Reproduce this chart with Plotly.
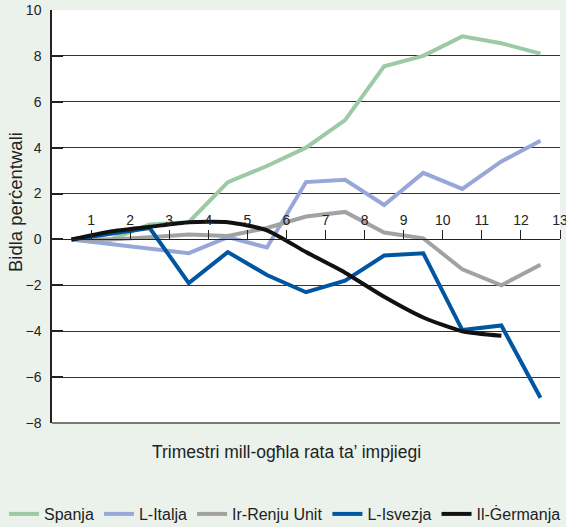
import plotly.graph_objects as go

quarters = [0.5, 1.5, 2.5, 3.5, 4.5, 5.5, 6.5, 7.5, 8.5, 9.5, 10.5, 11.5, 12.5]
spanja = [0, 0, 0.65, 0.75, 2.5, 3.2, 4.0, 5.2, 7.55, 8.0, 8.85, 8.55, 8.1]
italja = [0, -0.2, -0.4, -0.6, 0.1, -0.35, 2.5, 2.6, 1.5, 2.9, 2.2, 3.4, 4.3]
renju_unit = [0, 0.0, 0.1, 0.22, 0.15, 0.5, 1.0, 1.2, 0.3, 0.05, -1.3, -2.0, -1.1]
isvezja = [0, 0.25, 0.5, -1.9, -0.55, -1.55, -2.3, -1.8, -0.7, -0.6, -3.95, -3.75, -6.9]
germanja = [0, 0.35, 0.55, 0.75, 0.75, 0.4, -0.55, -1.45, -2.5, -3.4, -4.0, -4.2]

x_ticks = list(range(1, 14))
y_ticks = list(range(-8, 11, 2))

series = [
    ("Spanja", spanja, "#9ccaa6", "linear"),
    ("L-Italja", italja, "#97a7d8", "linear"),
    ("Ir-Renju Unit", renju_unit, "#a2a2a2", "linear"),
    ("L-Isvezja", isvezja, "#0056a1", "linear"),
    ("Il-Ġermanja", germanja, "#111111", "spline"),
]

FONT = "Liberation Sans, Arial, sans-serif"
BG = "#ebf2ec"

fig = go.Figure()
for name, vals, color, shape in series:
    fig.add_trace(go.Scatter(
        x=quarters[:len(vals)], y=vals, name=name, mode="lines",
        line=dict(color=color, width=4, shape=shape, smoothing=0.6),
    ))

fig.update_layout(
    width=566, height=527,
    margin=dict(l=52, r=6, t=10, b=104, autoexpand=False),
    paper_bgcolor=BG, plot_bgcolor="white",
    font=dict(family=FONT, size=14, color="#222"),
    showlegend=True,
    legend=dict(orientation="h", x=(4 - 52) / 508, xanchor="left",
                y=(423 - 514) / 413, yanchor="middle",
                font=dict(size=16, color="#222"), bgcolor="rgba(0,0,0,0)",
                itemwidth=30, tracegroupgap=0),
    xaxis=dict(range=[0, 13], tickvals=x_ticks, ticktext=[str(t) for t in x_ticks],
               side="top", anchor="free", position=8 / 18, automargin=False,
               ticks="outside", ticklen=9, tickcolor="#222", tickwidth=1,
               showline=True, linecolor="#222", linewidth=1,
               showgrid=False, zeroline=False, ticklabeloverflow="allow",
               tickfont=dict(size=14, color="#222")),
    yaxis=dict(range=[-8, 10], tickvals=y_ticks, automargin=False,
               ticks="inside", ticklen=11, tickcolor="#222", tickwidth=1.5,
               showline=True, linecolor="#222", linewidth=1.5,
               showgrid=True, gridcolor="#333", gridwidth=1,
               zeroline=False, ticklabelstandoff=6,
               tickfont=dict(size=14, color="#222")),
    shapes=[dict(type="line", xref="paper", yref="paper", x0=0, x1=1, y0=0, y1=0,
                 line=dict(color="#7a7a7a", width=2))],
    annotations=[
        dict(text="Trimestri mill-og\u0127la rata ta\u2019 impjiegi",
             xref="paper", yref="paper", x=(286 - 52) / 508, y=(423 - 452) / 413,
             xanchor="center", yanchor="middle", showarrow=False,
             font=dict(size=17.5, color="#222")),
        dict(text="Bidla per\u010bentwali", textangle=-90,
             xref="paper", yref="paper", x=(15 - 52) / 508, y=(423 - 202) / 413,
             xanchor="center", yanchor="middle", showarrow=False,
             font=dict(size=18.5, color="#222")),
    ],
)

fig.write_html(
    "out.html",
    config={"displayModeBar": False},
    post_script="document.body.style.margin='0px';document.body.style.padding='0px';"
                "document.body.style.overflow='hidden';"
                "document.body.style.background='" + BG + "';",
)
